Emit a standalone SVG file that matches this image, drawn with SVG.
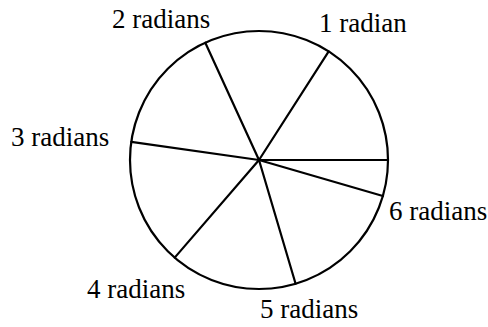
<svg xmlns="http://www.w3.org/2000/svg" width="488" height="327" viewBox="0 0 488 327">
<style>
.l{stroke:#000;stroke-width:2.2;fill:none;stroke-linecap:round}
.t{font-family:"Liberation Serif","Times New Roman",serif;font-size:27px;fill:#000}
</style>
<rect width="488" height="327" fill="#fff"/>
<g id="circle"><circle class="l" cx="259" cy="160" r="129"/></g>
<g id="connectors">
<line class="l" x1="259" y1="160" x2="388" y2="160"/>
<line class="l" x1="259" y1="160" x2="328.7" y2="51.4"/>
<line class="l" x1="259" y1="160" x2="205.3" y2="42.7"/>
<line class="l" x1="259" y1="160" x2="131.3" y2="141.8"/>
<line class="l" x1="259" y1="160" x2="174.7" y2="257.6"/>
<line class="l" x1="259" y1="160" x2="295.6" y2="283.7"/>
<line class="l" x1="259" y1="160" x2="382.9" y2="196"/>
</g>
<g id="label1"><text class="t" x="319" y="32">1 radian</text></g>
<g id="label2"><text class="t" x="112" y="28">2 radians</text></g>
<g id="label3"><text class="t" x="11" y="146">3 radians</text></g>
<g id="label4"><text class="t" x="87" y="298">4 radians</text></g>
<g id="label5"><text class="t" x="260" y="318">5 radians</text></g>
<g id="label6"><text class="t" x="389" y="220">6 radians</text></g>
</svg>
